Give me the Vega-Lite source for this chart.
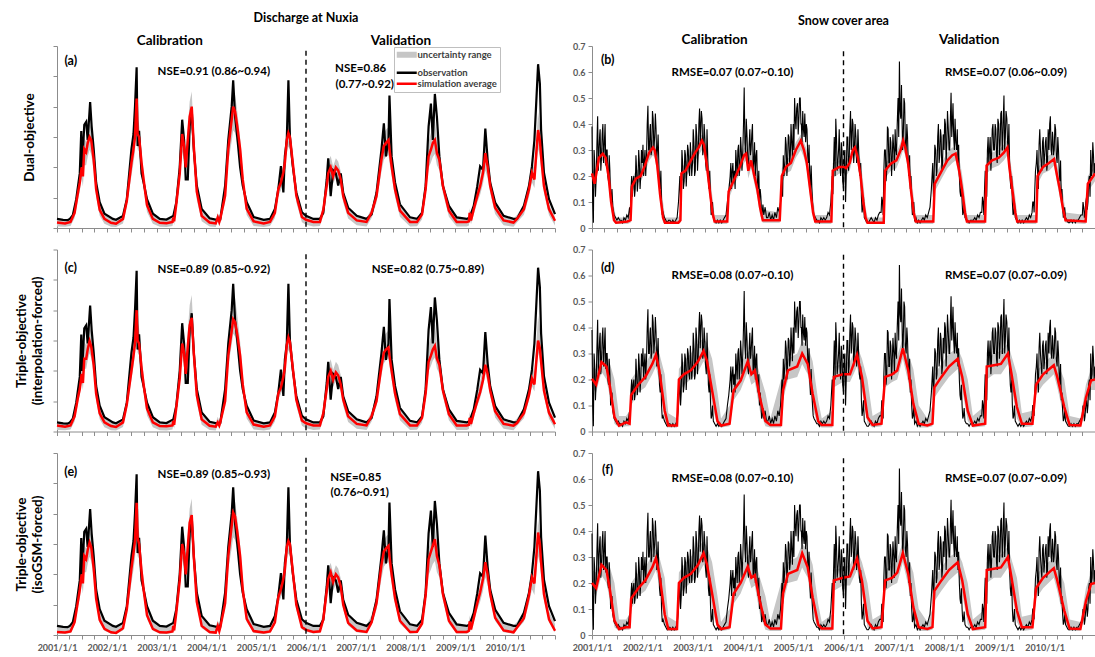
{
"$schema": "https://vega.github.io/schema/vega-lite/v6.json",
"background": "white",
"padding": {"left": 14, "top": 11, "right": 0, "bottom": 4},
"config": {
  "font": "Lato",
  "view": {"stroke": null},
  "axis": {"grid": false, "domainColor": "#8c8c8c", "tickColor": "#8c8c8c", "tickSize": 4, "labelFont": "Lato", "labelFontWeight": "bold", "labelColor": "#595959", "labelFontSize": 9, "titleFont": "Lato", "titleFontWeight": "bold", "titleFontSize": 13.5, "titleColor": "black"},
  "text": {"font": "Lato", "fontWeight": "bold", "color": "black"},
  "title": {"font": "Lato", "fontWeight": "bold", "fontSize": 12.5, "color": "black"}
},
"datasets": {
"qo": [
{"d":"2001-01-01","v":0.3},{"d":"2001-02-15","v":0.27},{"d":"2001-03-20","v":0.26},{"d":"2001-04-05","v":0.3},{"d":"2001-04-27","v":0.42},{"d":"2001-05-22","v":0.95},{"d":"2001-06-17","v":1.8},{"d":"2001-06-28","v":3.2},{"d":"2001-07-04","v":2.0},{"d":"2001-07-20","v":3.4},{"d":"2001-08-03","v":3.5},{"d":"2001-08-14","v":2.9},{"d":"2001-09-01","v":4.15},{"d":"2001-09-12","v":3.35},{"d":"2001-09-27","v":2.6},{"d":"2001-10-15","v":1.5},{"d":"2001-11-10","v":0.85},{"d":"2001-12-15","v":0.47},
{"d":"2002-02-15","v":0.3},{"d":"2002-03-10","v":0.27},{"d":"2002-04-30","v":0.4},{"d":"2002-05-28","v":0.95},{"d":"2002-07-01","v":2.6},{"d":"2002-07-16","v":3.1},{"d":"2002-07-27","v":4.0},{"d":"2002-08-08","v":5.3},{"d":"2002-08-15","v":2.7},{"d":"2002-08-26","v":3.2},{"d":"2002-09-13","v":1.8},{"d":"2002-09-28","v":1.5},{"d":"2002-10-23","v":0.95},{"d":"2002-12-05","v":0.47},
{"d":"2003-01-25","v":0.3},{"d":"2003-03-15","v":0.28},{"d":"2003-05-04","v":0.4},{"d":"2003-05-26","v":0.85},{"d":"2003-06-20","v":2.0},{"d":"2003-07-08","v":3.57},{"d":"2003-07-22","v":2.9},{"d":"2003-08-03","v":1.6},{"d":"2003-08-18","v":1.6},{"d":"2003-09-01","v":3.35},{"d":"2003-09-16","v":3.9},{"d":"2003-10-01","v":2.6},{"d":"2003-10-23","v":1.4},{"d":"2003-11-28","v":0.63},
{"d":"2004-01-25","v":0.32},{"d":"2004-03-18","v":0.27},{"d":"2004-04-12","v":0.28},{"d":"2004-05-18","v":1.4},{"d":"2004-06-10","v":2.9},{"d":"2004-07-05","v":4.0},{"d":"2004-07-16","v":4.87},{"d":"2004-07-30","v":3.67},{"d":"2004-08-15","v":3.0},{"d":"2004-09-05","v":2.0},{"d":"2004-09-24","v":1.4},{"d":"2004-10-23","v":0.85},{"d":"2004-12-13","v":0.36},
{"d":"2005-02-25","v":0.27},{"d":"2005-04-12","v":0.3},{"d":"2005-05-18","v":0.63},{"d":"2005-06-12","v":1.28},{"d":"2005-07-01","v":2.04},{"d":"2005-07-19","v":1.17},{"d":"2005-07-30","v":2.37},{"d":"2005-08-13","v":2.9},{"d":"2005-08-25","v":4.87},{"d":"2005-09-05","v":3.0},{"d":"2005-09-26","v":2.04},{"d":"2005-10-22","v":1.17},{"d":"2005-12-02","v":0.52},
{"d":"2006-01-01","v":0.4},{"d":"2006-02-24","v":0.3},{"d":"2006-04-13","v":0.3},{"d":"2006-05-08","v":0.5},{"d":"2006-06-02","v":1.6},{"d":"2006-06-13","v":2.3},{"d":"2006-07-01","v":1.05},{"d":"2006-07-19","v":1.9},{"d":"2006-08-08","v":1.8},{"d":"2006-08-25","v":1.4},{"d":"2006-09-13","v":1.8},{"d":"2006-10-01","v":1.16},{"d":"2006-11-06","v":0.67},
{"d":"2007-01-08","v":0.4},{"d":"2007-03-21","v":0.3},{"d":"2007-04-27","v":0.45},{"d":"2007-06-02","v":1.16},{"d":"2007-07-08","v":2.57},{"d":"2007-07-26","v":3.45},{"d":"2007-08-10","v":2.36},{"d":"2007-08-29","v":2.9},{"d":"2007-09-05","v":4.37},{"d":"2007-09-21","v":2.36},{"d":"2007-10-16","v":1.5},{"d":"2007-11-21","v":0.78},
{"d":"2008-02-03","v":0.35},{"d":"2008-03-25","v":0.3},{"d":"2008-05-01","v":0.5},{"d":"2008-05-27","v":1.38},{"d":"2008-06-18","v":3.34},{"d":"2008-07-05","v":4.1},{"d":"2008-07-19","v":2.9},{"d":"2008-08-03","v":4.42},{"d":"2008-08-18","v":3.66},{"d":"2008-09-05","v":2.36},{"d":"2008-10-01","v":1.38},{"d":"2008-11-14","v":0.73},
{"d":"2009-01-10","v":0.35},{"d":"2009-03-25","v":0.3},{"d":"2009-04-15","v":0.35},{"d":"2009-05-15","v":0.73},{"d":"2009-06-10","v":1.38},{"d":"2009-07-01","v":2.03},{"d":"2009-07-22","v":1.92},{"d":"2009-08-08","v":3.28},{"d":"2009-08-25","v":2.25},{"d":"2009-09-13","v":1.49},{"d":"2009-10-19","v":0.84},{"d":"2009-12-20","v":0.4},
{"d":"2010-03-03","v":0.3},{"d":"2010-03-28","v":0.3},{"d":"2010-05-18","v":0.73},{"d":"2010-06-24","v":1.38},{"d":"2010-07-16","v":2.03},{"d":"2010-08-03","v":2.9},{"d":"2010-08-15","v":4.0},{"d":"2010-08-30","v":5.4},{"d":"2010-09-12","v":4.76},{"d":"2010-09-21","v":3.23},{"d":"2010-10-12","v":1.82},{"d":"2010-11-18","v":0.95},{"d":"2011-01-01","v":0.46}
],
"qs": [
{"d":"2001-01-01","a":0.18,"c":0.2,"e":0.1,"l":0.05,"h":0.32},
{"d":"2001-03-01","a":0.15,"c":0.16,"e":0.08,"l":0.04,"h":0.28},
{"d":"2001-04-10","a":0.2,"c":0.2,"e":0.12,"l":0.07,"h":0.33},
{"d":"2001-05-10","a":0.5,"c":0.5,"e":0.42,"l":0.33,"h":0.65},
{"d":"2001-06-05","a":1.2,"c":1.15,"e":1.15,"l":0.97,"h":1.42},
{"d":"2001-06-17","a":1.5,"c":1.4,"e":1.5,"l":1.2,"h":1.75},
{"d":"2001-07-01","a":2.0,"c":1.9,"e":2.0,"l":1.63,"h":2.3},
{"d":"2001-07-10","a":1.7,"c":1.6,"e":1.7,"l":1.37,"h":1.97},
{"d":"2001-07-20","a":2.6,"c":2.4,"e":2.6,"l":2.07,"h":2.96},
{"d":"2001-08-03","a":2.5,"c":2.4,"e":2.5,"l":2.07,"h":2.85},
{"d":"2001-08-14","a":2.8,"c":2.7,"e":2.8,"l":2.34,"h":3.18},
{"d":"2001-08-28","a":3.0,"c":2.98,"e":3.05,"l":2.58,"h":3.46},
{"d":"2001-09-09","a":2.9,"c":2.8,"e":2.9,"l":2.42,"h":3.29},
{"d":"2001-09-27","a":2.25,"c":2.2,"e":2.2,"l":1.9,"h":2.58},
{"d":"2001-10-15","a":1.28,"c":1.25,"e":1.2,"l":1.02,"h":1.51},
{"d":"2001-11-10","a":0.6,"c":0.6,"e":0.5,"l":0.4,"h":0.76},
{"d":"2001-12-15","a":0.3,"c":0.3,"e":0.2,"l":0.14,"h":0.43},
{"d":"2002-02-01","a":0.17,"c":0.18,"e":0.09,"l":0.04,"h":0.3},
{"d":"2002-03-10","a":0.14,"c":0.15,"e":0.07,"l":0.03,"h":0.27},
{"d":"2002-04-30","a":0.3,"c":0.3,"e":0.22,"l":0.15,"h":0.43},
{"d":"2002-05-28","a":0.9,"c":0.9,"e":0.85,"l":0.71,"h":1.09},
{"d":"2002-07-01","a":2.15,"c":2.0,"e":2.2,"l":1.72,"h":2.52},
{"d":"2002-07-16","a":2.6,"c":2.5,"e":2.7,"l":2.16,"h":3.07},
{"d":"2002-07-27","a":3.0,"c":2.9,"e":3.1,"l":2.51,"h":3.51},
{"d":"2002-08-08","a":4.27,"c":4.0,"e":4.36,"l":3.48,"h":4.9},
{"d":"2002-08-15","a":3.1,"c":3.0,"e":3.2,"l":2.6,"h":3.62},
{"d":"2002-08-26","a":3.0,"c":2.9,"e":3.0,"l":2.51,"h":3.4},
{"d":"2002-09-13","a":2.15,"c":2.1,"e":2.1,"l":1.81,"h":2.47},
{"d":"2002-09-28","a":1.6,"c":1.55,"e":1.5,"l":1.28,"h":1.86},
{"d":"2002-10-23","a":0.75,"c":0.75,"e":0.65,"l":0.53,"h":0.93},
{"d":"2002-12-05","a":0.3,"c":0.3,"e":0.2,"l":0.14,"h":0.43},
{"d":"2003-01-25","a":0.17,"c":0.18,"e":0.09,"l":0.04,"h":0.3},
{"d":"2003-03-15","a":0.16,"c":0.17,"e":0.08,"l":0.03,"h":0.29},
{"d":"2003-04-28","a":0.2,"c":0.2,"e":0.12,"l":0.07,"h":0.32},
{"d":"2003-05-04","a":0.35,"c":0.35,"e":0.3,"l":0.22,"h":0.49},
{"d":"2003-05-10","a":0.22,"c":0.22,"e":0.15,"l":0.09,"h":0.34},
{"d":"2003-05-26","a":0.8,"c":0.8,"e":0.75,"l":0.62,"h":0.98},
{"d":"2003-06-20","a":1.8,"c":1.75,"e":1.8,"l":1.5,"h":2.08},
{"d":"2003-07-08","a":3.1,"c":2.9,"e":3.0,"l":2.51,"h":3.51},
{"d":"2003-07-22","a":2.7,"c":2.6,"e":2.7,"l":2.25,"h":3.07},
{"d":"2003-08-03","a":2.0,"c":1.9,"e":2.0,"l":1.63,"h":2.3},
{"d":"2003-08-18","a":2.9,"c":2.8,"e":2.9,"l":2.42,"h":3.29},
{"d":"2003-09-01","a":3.67,"c":3.5,"e":3.7,"l":3.04,"h":4.17},
{"d":"2003-09-16","a":4.0,"c":3.75,"e":3.95,"l":3.26,"h":4.5},
{"d":"2003-10-01","a":2.7,"c":2.6,"e":2.6,"l":2.25,"h":3.07},
{"d":"2003-10-23","a":1.2,"c":1.2,"e":1.1,"l":0.93,"h":1.42},
{"d":"2003-11-28","a":0.4,"c":0.4,"e":0.3,"l":0.22,"h":0.54},
{"d":"2004-01-25","a":0.18,"c":0.19,"e":0.1,"l":0.05,"h":0.31},
{"d":"2004-03-10","a":0.15,"c":0.16,"e":0.08,"l":0.03,"h":0.28},
{"d":"2004-03-25","a":0.35,"c":0.3,"e":0.3,"l":0.22,"h":0.49},
{"d":"2004-04-05","a":0.2,"c":0.2,"e":0.13,"l":0.07,"h":0.32},
{"d":"2004-04-12","a":0.3,"c":0.3,"e":0.25,"l":0.18,"h":0.43},
{"d":"2004-05-18","a":1.07,"c":1.0,"e":1.05,"l":0.84,"h":1.28},
{"d":"2004-06-10","a":2.6,"c":2.5,"e":2.6,"l":2.16,"h":2.96},
{"d":"2004-07-05","a":3.57,"c":3.3,"e":3.6,"l":2.86,"h":4.06},
{"d":"2004-07-16","a":4.0,"c":3.7,"e":4.03,"l":3.22,"h":4.53},
{"d":"2004-07-30","a":3.84,"c":3.6,"e":3.9,"l":3.13,"h":4.39},
{"d":"2004-08-15","a":3.35,"c":3.2,"e":3.4,"l":2.78,"h":3.84},
{"d":"2004-09-05","a":2.6,"c":2.5,"e":2.6,"l":2.16,"h":2.96},
{"d":"2004-09-24","a":1.6,"c":1.55,"e":1.5,"l":1.28,"h":1.86},
{"d":"2004-10-23","a":0.63,"c":0.63,"e":0.53,"l":0.43,"h":0.79},
{"d":"2004-12-13","a":0.22,"c":0.23,"e":0.13,"l":0.07,"h":0.35},
{"d":"2005-02-25","a":0.15,"c":0.16,"e":0.08,"l":0.03,"h":0.28},
{"d":"2005-04-12","a":0.2,"c":0.2,"e":0.12,"l":0.07,"h":0.32},
{"d":"2005-05-18","a":0.5,"c":0.5,"e":0.42,"l":0.33,"h":0.65},
{"d":"2005-06-12","a":1.28,"c":1.25,"e":1.25,"l":1.06,"h":1.51},
{"d":"2005-07-01","a":1.5,"c":1.45,"e":1.5,"l":1.24,"h":1.75},
{"d":"2005-07-19","a":1.83,"c":1.8,"e":1.85,"l":1.54,"h":2.14},
{"d":"2005-07-30","a":2.15,"c":2.1,"e":2.15,"l":1.81,"h":2.47},
{"d":"2005-08-13","a":2.9,"c":2.85,"e":2.9,"l":2.47,"h":3.29},
{"d":"2005-08-25","a":3.13,"c":3.1,"e":3.1,"l":2.69,"h":3.54},
{"d":"2005-09-05","a":3.0,"c":2.95,"e":3.0,"l":2.56,"h":3.4},
{"d":"2005-09-26","a":2.15,"c":2.1,"e":2.1,"l":1.81,"h":2.47},
{"d":"2005-10-22","a":1.07,"c":1.05,"e":1.0,"l":0.84,"h":1.28},
{"d":"2005-12-02","a":0.36,"c":0.36,"e":0.26,"l":0.19,"h":0.5},
{"d":"2006-01-01","a":0.27,"c":0.27,"e":0.17,"l":0.11,"h":0.4},
{"d":"2006-02-24","a":0.2,"c":0.2,"e":0.1,"l":0.05,"h":0.32},
{"d":"2006-04-13","a":0.2,"c":0.2,"e":0.12,"l":0.07,"h":0.32},
{"d":"2006-05-08","a":0.6,"c":0.6,"e":0.52,"l":0.42,"h":0.76},
{"d":"2006-06-02","a":1.4,"c":1.4,"e":1.45,"l":1.19,"h":1.7},
{"d":"2006-06-13","a":1.8,"c":1.8,"e":1.85,"l":1.54,"h":2.14},
{"d":"2006-07-01","a":2.0,"c":2.0,"e":2.07,"l":1.72,"h":2.38},
{"d":"2006-07-19","a":1.7,"c":1.7,"e":1.75,"l":1.46,"h":2.03},
{"d":"2006-08-08","a":2.0,"c":1.95,"e":2.0,"l":1.68,"h":2.3},
{"d":"2006-08-25","a":1.9,"c":1.85,"e":1.9,"l":1.59,"h":2.19},
{"d":"2006-09-13","a":1.6,"c":1.55,"e":1.6,"l":1.32,"h":1.86},
{"d":"2006-10-01","a":1.05,"c":1.05,"e":1.0,"l":0.84,"h":1.26},
{"d":"2006-11-06","a":0.5,"c":0.5,"e":0.4,"l":0.31,"h":0.65},
{"d":"2007-01-08","a":0.25,"c":0.25,"e":0.15,"l":0.09,"h":0.38},
{"d":"2007-03-21","a":0.2,"c":0.2,"e":0.1,"l":0.05,"h":0.32},
{"d":"2007-04-27","a":0.5,"c":0.5,"e":0.42,"l":0.33,"h":0.65},
{"d":"2007-06-02","a":1.05,"c":1.0,"e":1.05,"l":0.84,"h":1.26},
{"d":"2007-07-08","a":2.25,"c":2.15,"e":2.3,"l":1.85,"h":2.63},
{"d":"2007-07-26","a":2.7,"c":2.6,"e":2.75,"l":2.25,"h":3.13},
{"d":"2007-08-10","a":2.8,"c":2.7,"e":2.85,"l":2.34,"h":3.24},
{"d":"2007-08-29","a":2.9,"c":2.77,"e":2.94,"l":2.4,"h":3.33},
{"d":"2007-09-05","a":2.6,"c":2.5,"e":2.6,"l":2.16,"h":2.96},
{"d":"2007-09-21","a":2.03,"c":2.0,"e":2.0,"l":1.72,"h":2.33},
{"d":"2007-10-16","a":1.27,"c":1.25,"e":1.2,"l":1.02,"h":1.5},
{"d":"2007-11-21","a":0.57,"c":0.57,"e":0.47,"l":0.37,"h":0.73},
{"d":"2008-02-03","a":0.2,"c":0.2,"e":0.1,"l":0.05,"h":0.32},
{"d":"2008-03-25","a":0.2,"c":0.2,"e":0.11,"l":0.06,"h":0.32},
{"d":"2008-05-01","a":0.45,"c":0.45,"e":0.38,"l":0.29,"h":0.6},
{"d":"2008-05-27","a":1.27,"c":1.25,"e":1.3,"l":1.06,"h":1.53},
{"d":"2008-06-18","a":2.36,"c":2.3,"e":2.5,"l":1.98,"h":2.85},
{"d":"2008-07-05","a":2.58,"c":2.5,"e":2.75,"l":2.16,"h":3.13},
{"d":"2008-07-19","a":2.8,"c":2.7,"e":2.95,"l":2.34,"h":3.35},
{"d":"2008-08-03","a":2.9,"c":2.82,"e":3.16,"l":2.44,"h":3.58},
{"d":"2008-08-18","a":2.47,"c":2.4,"e":2.6,"l":2.07,"h":2.96},
{"d":"2008-09-05","a":2.25,"c":2.2,"e":2.3,"l":1.9,"h":2.63},
{"d":"2008-10-01","a":1.38,"c":1.35,"e":1.35,"l":1.15,"h":1.62},
{"d":"2008-11-14","a":0.57,"c":0.57,"e":0.47,"l":0.37,"h":0.73},
{"d":"2009-01-10","a":0.2,"c":0.2,"e":0.1,"l":0.05,"h":0.32},
{"d":"2009-03-25","a":0.2,"c":0.2,"e":0.1,"l":0.05,"h":0.32},
{"d":"2009-04-10","a":0.22,"c":0.22,"e":0.14,"l":0.08,"h":0.34},
{"d":"2009-04-15","a":0.5,"c":0.45,"e":0.45,"l":0.36,"h":0.65},
{"d":"2009-04-25","a":0.25,"c":0.25,"e":0.18,"l":0.12,"h":0.38},
{"d":"2009-05-15","a":0.62,"c":0.6,"e":0.55,"l":0.44,"h":0.78},
{"d":"2009-06-10","a":1.05,"c":1.0,"e":1.05,"l":0.84,"h":1.26},
{"d":"2009-07-01","a":1.38,"c":1.3,"e":1.4,"l":1.1,"h":1.64},
{"d":"2009-07-22","a":1.82,"c":1.7,"e":1.85,"l":1.46,"h":2.14},
{"d":"2009-08-08","a":2.47,"c":2.2,"e":2.4,"l":1.9,"h":2.82},
{"d":"2009-08-25","a":2.03,"c":1.9,"e":2.0,"l":1.63,"h":2.33},
{"d":"2009-09-13","a":1.38,"c":1.35,"e":1.35,"l":1.15,"h":1.62},
{"d":"2009-10-19","a":0.67,"c":0.67,"e":0.57,"l":0.46,"h":0.84},
{"d":"2009-12-20","a":0.25,"c":0.25,"e":0.15,"l":0.09,"h":0.38},
{"d":"2010-03-03","a":0.18,"c":0.19,"e":0.09,"l":0.04,"h":0.31},
{"d":"2010-03-28","a":0.3,"c":0.28,"e":0.25,"l":0.18,"h":0.43},
{"d":"2010-05-18","a":0.62,"c":0.6,"e":0.55,"l":0.44,"h":0.78},
{"d":"2010-06-24","a":1.27,"c":1.2,"e":1.3,"l":1.02,"h":1.53},
{"d":"2010-07-16","a":1.82,"c":1.75,"e":1.9,"l":1.5,"h":2.19},
{"d":"2010-08-03","a":1.6,"c":1.55,"e":1.7,"l":1.32,"h":1.97},
{"d":"2010-08-15","a":2.36,"c":2.2,"e":2.45,"l":1.9,"h":2.8},
{"d":"2010-08-30","a":3.23,"c":3.0,"e":3.38,"l":2.6,"h":3.82},
{"d":"2010-09-12","a":2.9,"c":2.75,"e":3.0,"l":2.38,"h":3.4},
{"d":"2010-09-21","a":2.36,"c":2.3,"e":2.4,"l":1.98,"h":2.74},
{"d":"2010-10-12","a":1.38,"c":1.35,"e":1.35,"l":1.15,"h":1.62},
{"d":"2010-11-18","a":0.62,"c":0.62,"e":0.52,"l":0.42,"h":0.78},
{"d":"2011-01-01","a":0.24,"c":0.24,"e":0.14,"l":0.08,"h":0.36}
],
"so": [
{"d":"2001-01-01","v":0.39},{"d":"2001-01-11","v":0.02},{"d":"2001-01-21","v":0.25},{"d":"2001-02-01","v":0.2},{"d":"2001-02-11","v":0.43},{"d":"2001-02-21","v":0.3},{"d":"2001-03-01","v":0.38},{"d":"2001-03-11","v":0.27},{"d":"2001-03-21","v":0.4},{"d":"2001-04-01","v":0.33},{"d":"2001-04-11","v":0.24},{"d":"2001-04-21","v":0.3},{"d":"2001-05-01","v":0.18},{"d":"2001-05-11","v":0.22},{"d":"2001-05-21","v":0.12},{"d":"2001-06-01","v":0.08},{"d":"2001-06-11","v":0.05},{"d":"2001-06-21","v":0.04},{"d":"2001-07-01","v":0.03},{"d":"2001-07-11","v":0.04},{"d":"2001-07-21","v":0.03},{"d":"2001-08-01","v":0.03},{"d":"2001-08-11","v":0.02},{"d":"2001-08-21","v":0.04},{"d":"2001-09-01","v":0.03},{"d":"2001-09-11","v":0.05},{"d":"2001-09-21","v":0.04},{"d":"2001-10-01","v":0.08},{"d":"2001-10-11","v":0.15},{"d":"2001-10-21","v":0.12},{"d":"2001-11-01","v":0.2},{"d":"2001-11-11","v":0.15},{"d":"2001-11-21","v":0.22},{"d":"2001-12-01","v":0.18},{"d":"2001-12-11","v":0.25},{"d":"2001-12-21","v":0.2},
{"d":"2002-01-01","v":0.25},{"d":"2002-01-11","v":0.2},{"d":"2002-01-21","v":0.3},{"d":"2002-02-01","v":0.28},{"d":"2002-02-11","v":0.47},{"d":"2002-02-21","v":0.3},{"d":"2002-03-01","v":0.4},{"d":"2002-03-11","v":0.3},{"d":"2002-03-21","v":0.42},{"d":"2002-04-01","v":0.35},{"d":"2002-04-11","v":0.38},{"d":"2002-04-21","v":0.3},{"d":"2002-05-01","v":0.25},{"d":"2002-05-11","v":0.15},{"d":"2002-05-21","v":0.1},{"d":"2002-06-01","v":0.06},{"d":"2002-06-11","v":0.04},{"d":"2002-06-21","v":0.03},{"d":"2002-07-01","v":0.02},{"d":"2002-07-11","v":0.03},{"d":"2002-07-21","v":0.03},{"d":"2002-08-01","v":0.02},{"d":"2002-08-11","v":0.03},{"d":"2002-08-21","v":0.02},{"d":"2002-09-01","v":0.03},{"d":"2002-09-11","v":0.04},{"d":"2002-09-21","v":0.1},{"d":"2002-10-01","v":0.2},{"d":"2002-10-11","v":0.15},{"d":"2002-10-21","v":0.25},{"d":"2002-11-01","v":0.18},{"d":"2002-11-11","v":0.28},{"d":"2002-11-21","v":0.22},{"d":"2002-12-01","v":0.3},{"d":"2002-12-11","v":0.2},{"d":"2002-12-21","v":0.27},
{"d":"2003-01-01","v":0.25},{"d":"2003-01-11","v":0.33},{"d":"2003-01-21","v":0.22},{"d":"2003-02-01","v":0.35},{"d":"2003-02-11","v":0.28},{"d":"2003-02-21","v":0.46},{"d":"2003-03-01","v":0.38},{"d":"2003-03-11","v":0.42},{"d":"2003-03-21","v":0.3},{"d":"2003-04-01","v":0.34},{"d":"2003-04-11","v":0.22},{"d":"2003-04-21","v":0.28},{"d":"2003-05-01","v":0.15},{"d":"2003-05-11","v":0.12},{"d":"2003-05-21","v":0.06},{"d":"2003-06-01","v":0.04},{"d":"2003-06-11","v":0.03},{"d":"2003-06-21","v":0.02},{"d":"2003-07-01","v":0.03},{"d":"2003-07-11","v":0.02},{"d":"2003-07-21","v":0.03},{"d":"2003-08-01","v":0.02},{"d":"2003-08-11","v":0.03},{"d":"2003-08-21","v":0.04},{"d":"2003-09-01","v":0.05},{"d":"2003-09-11","v":0.1},{"d":"2003-09-21","v":0.14},{"d":"2003-10-01","v":0.2},{"d":"2003-10-11","v":0.15},{"d":"2003-10-21","v":0.25},{"d":"2003-11-01","v":0.22},{"d":"2003-11-11","v":0.3},{"d":"2003-11-21","v":0.2},{"d":"2003-12-01","v":0.32},{"d":"2003-12-11","v":0.25},{"d":"2003-12-21","v":0.3},
{"d":"2004-01-01","v":0.3},{"d":"2004-01-11","v":0.54},{"d":"2004-01-21","v":0.28},{"d":"2004-02-01","v":0.35},{"d":"2004-02-11","v":0.22},{"d":"2004-02-21","v":0.38},{"d":"2004-03-01","v":0.3},{"d":"2004-03-11","v":0.4},{"d":"2004-03-21","v":0.25},{"d":"2004-04-01","v":0.2},{"d":"2004-04-11","v":0.3},{"d":"2004-04-21","v":0.15},{"d":"2004-05-01","v":0.1},{"d":"2004-05-11","v":0.12},{"d":"2004-05-21","v":0.06},{"d":"2004-06-01","v":0.05},{"d":"2004-06-11","v":0.08},{"d":"2004-06-21","v":0.04},{"d":"2004-07-01","v":0.04},{"d":"2004-07-11","v":0.06},{"d":"2004-07-21","v":0.03},{"d":"2004-08-01","v":0.05},{"d":"2004-08-11","v":0.03},{"d":"2004-08-21","v":0.06},{"d":"2004-09-01","v":0.04},{"d":"2004-09-11","v":0.08},{"d":"2004-09-21","v":0.06},{"d":"2004-10-01","v":0.1},{"d":"2004-10-11","v":0.2},{"d":"2004-10-21","v":0.28},{"d":"2004-11-01","v":0.25},{"d":"2004-11-11","v":0.32},{"d":"2004-11-21","v":0.26},{"d":"2004-12-01","v":0.35},{"d":"2004-12-11","v":0.28},{"d":"2004-12-21","v":0.33},
{"d":"2005-01-01","v":0.4},{"d":"2005-01-11","v":0.5},{"d":"2005-01-21","v":0.38},{"d":"2005-02-01","v":0.48},{"d":"2005-02-11","v":0.42},{"d":"2005-02-21","v":0.5},{"d":"2005-03-01","v":0.4},{"d":"2005-03-11","v":0.45},{"d":"2005-03-21","v":0.35},{"d":"2005-04-01","v":0.33},{"d":"2005-04-11","v":0.38},{"d":"2005-04-21","v":0.25},{"d":"2005-05-01","v":0.2},{"d":"2005-05-11","v":0.24},{"d":"2005-05-21","v":0.1},{"d":"2005-06-01","v":0.05},{"d":"2005-06-11","v":0.04},{"d":"2005-06-21","v":0.03},{"d":"2005-07-01","v":0.03},{"d":"2005-07-11","v":0.02},{"d":"2005-07-21","v":0.04},{"d":"2005-08-01","v":0.03},{"d":"2005-08-11","v":0.04},{"d":"2005-08-21","v":0.03},{"d":"2005-09-01","v":0.04},{"d":"2005-09-11","v":0.06},{"d":"2005-09-21","v":0.05},{"d":"2005-10-01","v":0.1},{"d":"2005-10-11","v":0.2},{"d":"2005-10-21","v":0.25},{"d":"2005-11-01","v":0.2},{"d":"2005-11-11","v":0.35},{"d":"2005-11-21","v":0.25},{"d":"2005-12-01","v":0.38},{"d":"2005-12-11","v":0.2},{"d":"2005-12-21","v":0.3},
{"d":"2006-01-01","v":0.15},{"d":"2006-01-11","v":0.3},{"d":"2006-01-21","v":0.2},{"d":"2006-02-01","v":0.35},{"d":"2006-02-11","v":0.25},{"d":"2006-02-21","v":0.45},{"d":"2006-03-01","v":0.32},{"d":"2006-03-11","v":0.4},{"d":"2006-03-21","v":0.3},{"d":"2006-04-01","v":0.35},{"d":"2006-04-11","v":0.28},{"d":"2006-04-21","v":0.3},{"d":"2006-05-01","v":0.2},{"d":"2006-05-11","v":0.12},{"d":"2006-05-21","v":0.08},{"d":"2006-06-01","v":0.04},{"d":"2006-06-11","v":0.03},{"d":"2006-06-21","v":0.02},{"d":"2006-07-01","v":0.02},{"d":"2006-07-11","v":0.03},{"d":"2006-07-21","v":0.04},{"d":"2006-08-01","v":0.03},{"d":"2006-08-11","v":0.02},{"d":"2006-08-21","v":0.04},{"d":"2006-09-01","v":0.03},{"d":"2006-09-11","v":0.05},{"d":"2006-09-21","v":0.06},{"d":"2006-10-01","v":0.06},{"d":"2006-10-11","v":0.1},{"d":"2006-10-21","v":0.22},{"d":"2006-11-01","v":0.3},{"d":"2006-11-11","v":0.22},{"d":"2006-11-21","v":0.38},{"d":"2006-12-01","v":0.25},{"d":"2006-12-11","v":0.33},{"d":"2006-12-21","v":0.27},
{"d":"2007-01-01","v":0.3},{"d":"2007-01-11","v":0.38},{"d":"2007-01-21","v":0.28},{"d":"2007-02-01","v":0.5},{"d":"2007-02-11","v":0.64},{"d":"2007-02-21","v":0.42},{"d":"2007-03-01","v":0.45},{"d":"2007-03-11","v":0.35},{"d":"2007-03-21","v":0.48},{"d":"2007-04-01","v":0.3},{"d":"2007-04-11","v":0.35},{"d":"2007-04-21","v":0.2},{"d":"2007-05-01","v":0.15},{"d":"2007-05-11","v":0.1},{"d":"2007-05-21","v":0.06},{"d":"2007-06-01","v":0.03},{"d":"2007-06-11","v":0.04},{"d":"2007-06-21","v":0.02},{"d":"2007-07-01","v":0.03},{"d":"2007-07-11","v":0.02},{"d":"2007-07-21","v":0.03},{"d":"2007-08-01","v":0.04},{"d":"2007-08-11","v":0.03},{"d":"2007-08-21","v":0.05},{"d":"2007-09-01","v":0.04},{"d":"2007-09-11","v":0.06},{"d":"2007-09-21","v":0.08},{"d":"2007-10-01","v":0.15},{"d":"2007-10-11","v":0.25},{"d":"2007-10-21","v":0.2},{"d":"2007-11-01","v":0.3},{"d":"2007-11-11","v":0.22},{"d":"2007-11-21","v":0.4},{"d":"2007-12-01","v":0.28},{"d":"2007-12-11","v":0.35},{"d":"2007-12-21","v":0.25},
{"d":"2008-01-01","v":0.3},{"d":"2008-01-11","v":0.4},{"d":"2008-01-21","v":0.32},{"d":"2008-02-01","v":0.38},{"d":"2008-02-11","v":0.3},{"d":"2008-02-21","v":0.52},{"d":"2008-03-01","v":0.4},{"d":"2008-03-11","v":0.35},{"d":"2008-03-21","v":0.42},{"d":"2008-04-01","v":0.3},{"d":"2008-04-11","v":0.25},{"d":"2008-04-21","v":0.2},{"d":"2008-05-01","v":0.12},{"d":"2008-05-11","v":0.1},{"d":"2008-05-21","v":0.06},{"d":"2008-06-01","v":0.04},{"d":"2008-06-11","v":0.03},{"d":"2008-06-21","v":0.03},{"d":"2008-07-01","v":0.02},{"d":"2008-07-11","v":0.03},{"d":"2008-07-21","v":0.03},{"d":"2008-08-01","v":0.03},{"d":"2008-08-11","v":0.04},{"d":"2008-08-21","v":0.03},{"d":"2008-09-01","v":0.05},{"d":"2008-09-11","v":0.04},{"d":"2008-09-21","v":0.06},{"d":"2008-10-01","v":0.06},{"d":"2008-10-11","v":0.1},{"d":"2008-10-21","v":0.15},{"d":"2008-11-01","v":0.2},{"d":"2008-11-11","v":0.3},{"d":"2008-11-21","v":0.25},{"d":"2008-12-01","v":0.35},{"d":"2008-12-11","v":0.28},{"d":"2008-12-21","v":0.4},
{"d":"2009-01-01","v":0.3},{"d":"2009-01-11","v":0.38},{"d":"2009-01-21","v":0.25},{"d":"2009-02-01","v":0.4},{"d":"2009-02-11","v":0.32},{"d":"2009-02-21","v":0.45},{"d":"2009-03-01","v":0.3},{"d":"2009-03-11","v":0.51},{"d":"2009-03-21","v":0.35},{"d":"2009-04-01","v":0.42},{"d":"2009-04-11","v":0.3},{"d":"2009-04-21","v":0.25},{"d":"2009-05-01","v":0.15},{"d":"2009-05-11","v":0.1},{"d":"2009-05-21","v":0.06},{"d":"2009-06-01","v":0.04},{"d":"2009-06-11","v":0.03},{"d":"2009-06-21","v":0.02},{"d":"2009-07-01","v":0.03},{"d":"2009-07-11","v":0.02},{"d":"2009-07-21","v":0.03},{"d":"2009-08-01","v":0.02},{"d":"2009-08-11","v":0.03},{"d":"2009-08-21","v":0.04},{"d":"2009-09-01","v":0.03},{"d":"2009-09-11","v":0.05},{"d":"2009-09-21","v":0.04},{"d":"2009-10-01","v":0.06},{"d":"2009-10-11","v":0.1},{"d":"2009-10-21","v":0.15},{"d":"2009-11-01","v":0.25},{"d":"2009-11-11","v":0.2},{"d":"2009-11-21","v":0.32},{"d":"2009-12-01","v":0.3},{"d":"2009-12-11","v":0.22},{"d":"2009-12-21","v":0.35},
{"d":"2010-01-01","v":0.28},{"d":"2010-01-11","v":0.35},{"d":"2010-01-21","v":0.25},{"d":"2010-02-01","v":0.3},{"d":"2010-02-11","v":0.43},{"d":"2010-02-21","v":0.28},{"d":"2010-03-01","v":0.35},{"d":"2010-03-11","v":0.3},{"d":"2010-03-21","v":0.38},{"d":"2010-04-01","v":0.25},{"d":"2010-04-11","v":0.3},{"d":"2010-04-21","v":0.18},{"d":"2010-05-01","v":0.12},{"d":"2010-05-11","v":0.08},{"d":"2010-05-21","v":0.05},{"d":"2010-06-01","v":0.04},{"d":"2010-06-11","v":0.03},{"d":"2010-06-21","v":0.02},{"d":"2010-07-01","v":0.02},{"d":"2010-07-11","v":0.03},{"d":"2010-07-21","v":0.02},{"d":"2010-08-01","v":0.03},{"d":"2010-08-11","v":0.02},{"d":"2010-08-21","v":0.03},{"d":"2010-09-01","v":0.03},{"d":"2010-09-11","v":0.04},{"d":"2010-09-21","v":0.05},{"d":"2010-10-01","v":0.05},{"d":"2010-10-11","v":0.08},{"d":"2010-10-21","v":0.06},{"d":"2010-11-01","v":0.12},{"d":"2010-11-11","v":0.1},{"d":"2010-11-21","v":0.2},{"d":"2010-12-01","v":0.3},{"d":"2010-12-11","v":0.22},{"d":"2010-12-21","v":0.28},{"d":"2011-01-01","v":0.25},
{"d":"2001-01-06","v":0.1},{"d":"2001-01-16","v":0.3},{"d":"2001-01-26","v":0.12},{"d":"2001-02-06","v":0.33},{"d":"2001-02-16","v":0.22},{"d":"2001-02-26","v":0.36},{"d":"2001-03-06","v":0.22},{"d":"2001-03-16","v":0.36},{"d":"2001-03-26","v":0.25},{"d":"2001-04-06","v":0.4},{"d":"2001-04-16","v":0.3},{"d":"2001-04-26","v":0.2},{"d":"2001-05-06","v":0.28},{"d":"2001-05-16","v":0.1},{"d":"2001-05-26","v":0.15},{"d":"2001-10-06","v":0.05},{"d":"2001-10-16","v":0.2},{"d":"2001-10-26","v":0.18},{"d":"2001-11-06","v":0.12},{"d":"2001-11-16","v":0.28},{"d":"2001-11-26","v":0.14},{"d":"2001-12-06","v":0.3},{"d":"2001-12-16","v":0.15},{"d":"2001-12-26","v":0.3},
{"d":"2002-01-06","v":0.32},{"d":"2002-01-16","v":0.26},{"d":"2002-01-26","v":0.2},{"d":"2002-02-06","v":0.4},{"d":"2002-02-16","v":0.3},{"d":"2002-02-26","v":0.38},{"d":"2002-03-06","v":0.28},{"d":"2002-03-16","v":0.45},{"d":"2002-03-26","v":0.3},{"d":"2002-04-06","v":0.44},{"d":"2002-04-16","v":0.25},{"d":"2002-04-26","v":0.36},{"d":"2002-05-06","v":0.18},{"d":"2002-05-16","v":0.22},{"d":"2002-05-26","v":0.05},{"d":"2002-10-06","v":0.1},{"d":"2002-10-16","v":0.3},{"d":"2002-10-26","v":0.15},{"d":"2002-11-06","v":0.3},{"d":"2002-11-16","v":0.16},{"d":"2002-11-26","v":0.32},{"d":"2002-12-06","v":0.22},{"d":"2002-12-16","v":0.33},{"d":"2002-12-26","v":0.2},
{"d":"2003-01-06","v":0.38},{"d":"2003-01-16","v":0.2},{"d":"2003-01-26","v":0.4},{"d":"2003-02-06","v":0.22},{"d":"2003-02-16","v":0.4},{"d":"2003-02-26","v":0.32},{"d":"2003-03-06","v":0.45},{"d":"2003-03-16","v":0.28},{"d":"2003-03-26","v":0.4},{"d":"2003-04-06","v":0.25},{"d":"2003-04-16","v":0.38},{"d":"2003-04-26","v":0.18},{"d":"2003-05-06","v":0.22},{"d":"2003-05-16","v":0.05},{"d":"2003-05-26","v":0.1},{"d":"2003-10-06","v":0.25},{"d":"2003-10-16","v":0.22},{"d":"2003-10-26","v":0.18},{"d":"2003-11-06","v":0.15},{"d":"2003-11-16","v":0.25},{"d":"2003-11-26","v":0.3},{"d":"2003-12-06","v":0.2},{"d":"2003-12-16","v":0.35},{"d":"2003-12-26","v":0.22},
{"d":"2004-01-06","v":0.4},{"d":"2004-01-16","v":0.33},{"d":"2004-01-26","v":0.42},{"d":"2004-02-06","v":0.25},{"d":"2004-02-16","v":0.32},{"d":"2004-02-26","v":0.28},{"d":"2004-03-06","v":0.36},{"d":"2004-03-16","v":0.22},{"d":"2004-03-26","v":0.33},{"d":"2004-04-06","v":0.28},{"d":"2004-04-16","v":0.18},{"d":"2004-04-26","v":0.22},{"d":"2004-05-06","v":0.15},{"d":"2004-05-16","v":0.05},{"d":"2004-05-26","v":0.09},{"d":"2004-10-06","v":0.15},{"d":"2004-10-16","v":0.12},{"d":"2004-10-26","v":0.2},{"d":"2004-11-06","v":0.35},{"d":"2004-11-16","v":0.2},{"d":"2004-11-26","v":0.36},{"d":"2004-12-06","v":0.25},{"d":"2004-12-16","v":0.4},{"d":"2004-12-26","v":0.27},
{"d":"2005-01-06","v":0.3},{"d":"2005-01-16","v":0.42},{"d":"2005-01-26","v":0.46},{"d":"2005-02-06","v":0.36},{"d":"2005-02-16","v":0.5},{"d":"2005-02-26","v":0.4},{"d":"2005-03-06","v":0.33},{"d":"2005-03-16","v":0.38},{"d":"2005-03-26","v":0.44},{"d":"2005-04-06","v":0.4},{"d":"2005-04-16","v":0.28},{"d":"2005-04-26","v":0.32},{"d":"2005-05-06","v":0.14},{"d":"2005-05-16","v":0.16},{"d":"2005-05-26","v":0.06},{"d":"2005-10-06","v":0.15},{"d":"2005-10-16","v":0.13},{"d":"2005-10-26","v":0.35},{"d":"2005-11-06","v":0.42},{"d":"2005-11-16","v":0.22},{"d":"2005-11-26","v":0.3},{"d":"2005-12-06","v":0.25},{"d":"2005-12-16","v":0.33},{"d":"2005-12-26","v":0.18},
{"d":"2006-01-06","v":0.28},{"d":"2006-01-16","v":0.1},{"d":"2006-01-26","v":0.35},{"d":"2006-02-06","v":0.22},{"d":"2006-02-16","v":0.38},{"d":"2006-02-26","v":0.3},{"d":"2006-03-06","v":0.42},{"d":"2006-03-16","v":0.25},{"d":"2006-03-26","v":0.4},{"d":"2006-04-06","v":0.25},{"d":"2006-04-16","v":0.38},{"d":"2006-04-26","v":0.22},{"d":"2006-05-06","v":0.25},{"d":"2006-05-16","v":0.06},{"d":"2006-05-26","v":0.12},{"d":"2006-10-06","v":0.12},{"d":"2006-10-16","v":0.05},{"d":"2006-10-26","v":0.3},{"d":"2006-11-06","v":0.18},{"d":"2006-11-16","v":0.39},{"d":"2006-11-26","v":0.25},{"d":"2006-12-06","v":0.35},{"d":"2006-12-16","v":0.2},{"d":"2006-12-26","v":0.36},
{"d":"2007-01-06","v":0.22},{"d":"2007-01-16","v":0.3},{"d":"2007-01-26","v":0.4},{"d":"2007-02-06","v":0.35},{"d":"2007-02-16","v":0.45},{"d":"2007-02-26","v":0.55},{"d":"2007-03-06","v":0.3},{"d":"2007-03-16","v":0.5},{"d":"2007-03-26","v":0.33},{"d":"2007-04-06","v":0.4},{"d":"2007-04-16","v":0.25},{"d":"2007-04-26","v":0.28},{"d":"2007-05-06","v":0.2},{"d":"2007-05-16","v":0.05},{"d":"2007-05-26","v":0.1},{"d":"2007-10-06","v":0.2},{"d":"2007-10-16","v":0.12},{"d":"2007-10-26","v":0.32},{"d":"2007-11-06","v":0.2},{"d":"2007-11-16","v":0.35},{"d":"2007-11-26","v":0.25},{"d":"2007-12-06","v":0.38},{"d":"2007-12-16","v":0.22},{"d":"2007-12-26","v":0.36},
{"d":"2008-01-06","v":0.42},{"d":"2008-01-16","v":0.25},{"d":"2008-01-26","v":0.45},{"d":"2008-02-06","v":0.3},{"d":"2008-02-16","v":0.42},{"d":"2008-02-26","v":0.35},{"d":"2008-03-06","v":0.48},{"d":"2008-03-16","v":0.3},{"d":"2008-03-26","v":0.33},{"d":"2008-04-06","v":0.38},{"d":"2008-04-16","v":0.32},{"d":"2008-04-26","v":0.14},{"d":"2008-05-06","v":0.18},{"d":"2008-05-16","v":0.05},{"d":"2008-05-26","v":0.09},{"d":"2008-10-06","v":0.12},{"d":"2008-10-16","v":0.05},{"d":"2008-10-26","v":0.22},{"d":"2008-11-06","v":0.12},{"d":"2008-11-16","v":0.35},{"d":"2008-11-26","v":0.3},{"d":"2008-12-06","v":0.22},{"d":"2008-12-16","v":0.38},{"d":"2008-12-26","v":0.3},
{"d":"2009-01-06","v":0.4},{"d":"2009-01-16","v":0.28},{"d":"2009-01-26","v":0.42},{"d":"2009-02-06","v":0.28},{"d":"2009-02-16","v":0.44},{"d":"2009-02-26","v":0.3},{"d":"2009-03-06","v":0.42},{"d":"2009-03-16","v":0.3},{"d":"2009-03-26","v":0.45},{"d":"2009-04-06","v":0.33},{"d":"2009-04-16","v":0.4},{"d":"2009-04-26","v":0.18},{"d":"2009-05-06","v":0.2},{"d":"2009-05-16","v":0.05},{"d":"2009-05-26","v":0.1},{"d":"2009-10-06","v":0.1},{"d":"2009-10-16","v":0.06},{"d":"2009-10-26","v":0.22},{"d":"2009-11-06","v":0.3},{"d":"2009-11-16","v":0.15},{"d":"2009-11-26","v":0.38},{"d":"2009-12-06","v":0.25},{"d":"2009-12-16","v":0.33},{"d":"2009-12-26","v":0.24},
{"d":"2010-01-06","v":0.33},{"d":"2010-01-16","v":0.22},{"d":"2010-01-26","v":0.38},{"d":"2010-02-06","v":0.4},{"d":"2010-02-16","v":0.3},{"d":"2010-02-26","v":0.37},{"d":"2010-03-06","v":0.28},{"d":"2010-03-16","v":0.4},{"d":"2010-03-26","v":0.28},{"d":"2010-04-06","v":0.35},{"d":"2010-04-16","v":0.22},{"d":"2010-04-26","v":0.26},{"d":"2010-05-06","v":0.15},{"d":"2010-05-16","v":0.04},{"d":"2010-05-26","v":0.08},{"d":"2010-10-06","v":0.1},{"d":"2010-10-16","v":0.04},{"d":"2010-10-26","v":0.1},{"d":"2010-11-06","v":0.07},{"d":"2010-11-16","v":0.18},{"d":"2010-11-26","v":0.12},{"d":"2010-12-06","v":0.2},{"d":"2010-12-16","v":0.33},{"d":"2010-12-26","v":0.2}
],
"sb": [
{"d":"2001-01-01","m":0.21,"l":0.19,"h":0.24},{"d":"2001-01-20","m":0.17,"l":0.15,"h":0.21},{"d":"2001-02-20","m":0.27,"l":0.25,"h":0.3},{"d":"2001-03-20","m":0.286,"l":0.26,"h":0.31},{"d":"2001-04-10","m":0.27,"l":0.24,"h":0.3},{"d":"2001-05-01","m":0.2,"l":0.17,"h":0.25},{"d":"2001-05-20","m":0.1,"l":0.07,"h":0.17},{"d":"2001-06-10","m":0.03,"l":0.02,"h":0.08},{"d":"2001-06-25","m":0.02,"l":0.015,"h":0.04},{"d":"2001-09-15","m":0.025,"l":0.015,"h":0.04},{"d":"2001-10-08","m":0.03,"l":0.02,"h":0.06},{"d":"2001-10-18","m":0.16,"l":0.13,"h":0.19},{"d":"2001-11-15","m":0.19,"l":0.17,"h":0.22},{"d":"2001-12-20","m":0.2,"l":0.18,"h":0.23},
{"d":"2002-01-20","m":0.24,"l":0.21,"h":0.27},{"d":"2002-02-20","m":0.29,"l":0.26,"h":0.32},{"d":"2002-03-20","m":0.31,"l":0.28,"h":0.34},{"d":"2002-04-01","m":0.3,"l":0.27,"h":0.33},{"d":"2002-04-20","m":0.24,"l":0.21,"h":0.28},{"d":"2002-05-10","m":0.13,"l":0.1,"h":0.2},{"d":"2002-06-01","m":0.04,"l":0.02,"h":0.1},{"d":"2002-06-15","m":0.02,"l":0.015,"h":0.04},{"d":"2002-09-20","m":0.02,"l":0.015,"h":0.04},{"d":"2002-10-05","m":0.03,"l":0.02,"h":0.06},{"d":"2002-10-12","m":0.21,"l":0.18,"h":0.23},{"d":"2002-11-10","m":0.22,"l":0.19,"h":0.25},{"d":"2002-12-20","m":0.26,"l":0.23,"h":0.29},
{"d":"2003-01-20","m":0.29,"l":0.26,"h":0.32},{"d":"2003-02-15","m":0.31,"l":0.28,"h":0.34},{"d":"2003-03-10","m":0.336,"l":0.3,"h":0.36},{"d":"2003-03-25","m":0.32,"l":0.29,"h":0.35},{"d":"2003-04-15","m":0.24,"l":0.21,"h":0.29},{"d":"2003-05-05","m":0.15,"l":0.12,"h":0.22},{"d":"2003-05-25","m":0.06,"l":0.04,"h":0.12},{"d":"2003-06-10","m":0.025,"l":0.015,"h":0.05},{"d":"2003-09-10","m":0.025,"l":0.015,"h":0.05},{"d":"2003-09-20","m":0.14,"l":0.11,"h":0.17},{"d":"2003-10-25","m":0.18,"l":0.16,"h":0.21},{"d":"2003-12-10","m":0.235,"l":0.21,"h":0.26},
{"d":"2004-01-10","m":0.28,"l":0.25,"h":0.31},{"d":"2004-01-25","m":0.286,"l":0.26,"h":0.31},{"d":"2004-02-10","m":0.22,"l":0.19,"h":0.26},{"d":"2004-03-01","m":0.26,"l":0.23,"h":0.29},{"d":"2004-03-25","m":0.2,"l":0.17,"h":0.24},{"d":"2004-04-15","m":0.15,"l":0.12,"h":0.2},{"d":"2004-05-05","m":0.08,"l":0.05,"h":0.14},{"d":"2004-05-25","m":0.03,"l":0.02,"h":0.07},{"d":"2004-09-25","m":0.03,"l":0.02,"h":0.06},{"d":"2004-10-10","m":0.2,"l":0.17,"h":0.23},{"d":"2004-11-10","m":0.235,"l":0.21,"h":0.26},{"d":"2004-12-15","m":0.25,"l":0.22,"h":0.28},
{"d":"2005-01-20","m":0.3,"l":0.27,"h":0.33},{"d":"2005-02-25","m":0.336,"l":0.3,"h":0.36},{"d":"2005-03-20","m":0.3,"l":0.27,"h":0.33},{"d":"2005-04-10","m":0.25,"l":0.22,"h":0.3},{"d":"2005-05-01","m":0.16,"l":0.13,"h":0.23},{"d":"2005-05-25","m":0.06,"l":0.04,"h":0.12},{"d":"2005-06-10","m":0.025,"l":0.015,"h":0.05},{"d":"2005-10-05","m":0.025,"l":0.015,"h":0.05},{"d":"2005-10-15","m":0.22,"l":0.19,"h":0.25},{"d":"2005-12-01","m":0.235,"l":0.21,"h":0.26},
{"d":"2006-01-01","m":0.235,"l":0.21,"h":0.26},{"d":"2006-01-20","m":0.23,"l":0.2,"h":0.26},{"d":"2006-02-15","m":0.25,"l":0.22,"h":0.28},{"d":"2006-03-10","m":0.3,"l":0.27,"h":0.33},{"d":"2006-03-25","m":0.31,"l":0.28,"h":0.34},{"d":"2006-04-15","m":0.27,"l":0.24,"h":0.31},{"d":"2006-05-05","m":0.2,"l":0.17,"h":0.26},{"d":"2006-05-25","m":0.1,"l":0.07,"h":0.17},{"d":"2006-06-10","m":0.04,"l":0.02,"h":0.08},{"d":"2006-06-25","m":0.02,"l":0.015,"h":0.04},{"d":"2006-10-20","m":0.02,"l":0.015,"h":0.04},{"d":"2006-10-30","m":0.22,"l":0.19,"h":0.25},{"d":"2006-12-10","m":0.247,"l":0.22,"h":0.27},
{"d":"2007-01-20","m":0.26,"l":0.23,"h":0.29},{"d":"2007-02-20","m":0.3,"l":0.27,"h":0.33},{"d":"2007-03-10","m":0.336,"l":0.3,"h":0.36},{"d":"2007-03-25","m":0.31,"l":0.28,"h":0.34},{"d":"2007-04-15","m":0.25,"l":0.22,"h":0.3},{"d":"2007-05-05","m":0.15,"l":0.12,"h":0.22},{"d":"2007-05-25","m":0.06,"l":0.04,"h":0.12},{"d":"2007-06-10","m":0.025,"l":0.015,"h":0.05},{"d":"2007-10-15","m":0.025,"l":0.015,"h":0.05},{"d":"2007-10-25","m":0.17,"l":0.14,"h":0.2},{"d":"2007-12-15","m":0.22,"l":0.19,"h":0.25},
{"d":"2008-01-25","m":0.26,"l":0.23,"h":0.29},{"d":"2008-03-01","m":0.28,"l":0.25,"h":0.31},{"d":"2008-03-25","m":0.286,"l":0.26,"h":0.31},{"d":"2008-04-20","m":0.22,"l":0.19,"h":0.27},{"d":"2008-05-10","m":0.15,"l":0.12,"h":0.21},{"d":"2008-06-01","m":0.06,"l":0.04,"h":0.12},{"d":"2008-06-15","m":0.025,"l":0.015,"h":0.05},{"d":"2008-10-25","m":0.025,"l":0.015,"h":0.05},{"d":"2008-11-05","m":0.24,"l":0.21,"h":0.27},{"d":"2008-12-15","m":0.26,"l":0.23,"h":0.29},
{"d":"2009-02-01","m":0.27,"l":0.24,"h":0.3},{"d":"2009-03-10","m":0.29,"l":0.26,"h":0.32},{"d":"2009-04-05","m":0.31,"l":0.28,"h":0.34},{"d":"2009-04-20","m":0.23,"l":0.2,"h":0.28},{"d":"2009-05-10","m":0.15,"l":0.12,"h":0.21},{"d":"2009-06-01","m":0.06,"l":0.04,"h":0.12},{"d":"2009-06-15","m":0.025,"l":0.015,"h":0.05},{"d":"2009-11-01","m":0.025,"l":0.015,"h":0.05},{"d":"2009-11-10","m":0.2,"l":0.17,"h":0.23},{"d":"2009-12-20","m":0.235,"l":0.21,"h":0.26},
{"d":"2010-02-01","m":0.25,"l":0.22,"h":0.28},{"d":"2010-03-10","m":0.265,"l":0.24,"h":0.29},{"d":"2010-03-25","m":0.22,"l":0.19,"h":0.26},{"d":"2010-04-20","m":0.15,"l":0.12,"h":0.2},{"d":"2010-05-15","m":0.07,"l":0.05,"h":0.13},{"d":"2010-06-01","m":0.03,"l":0.02,"h":0.06},{"d":"2010-10-25","m":0.025,"l":0.015,"h":0.05},{"d":"2010-11-10","m":0.17,"l":0.14,"h":0.2},{"d":"2010-12-20","m":0.2,"l":0.17,"h":0.23},{"d":"2011-01-01","m":0.21,"l":0.18,"h":0.24}
],
"sdf": [
{"d":"2001-01-01","md":0.203,"mf":0.2,"l":0.17,"h":0.25},{"d":"2001-01-31","md":0.18,"mf":0.18,"l":0.15,"h":0.24},{"d":"2001-03-11","md":0.267,"mf":0.27,"l":0.23,"h":0.31},{"d":"2001-04-16","md":0.25,"mf":0.25,"l":0.2,"h":0.3},{"d":"2001-05-12","md":0.17,"mf":0.17,"l":0.13,"h":0.26},{"d":"2001-06-13","md":0.055,"mf":0.055,"l":0.03,"h":0.2},{"d":"2001-07-16","md":0.023,"mf":0.023,"l":0.015,"h":0.06},{"d":"2001-09-05","md":0.035,"mf":0.03,"l":0.02,"h":0.06},{"d":"2001-10-01","md":0.03,"mf":0.03,"l":0.02,"h":0.08},{"d":"2001-10-12","md":0.14,"mf":0.14,"l":0.1,"h":0.2},{"d":"2001-12-03","md":0.18,"mf":0.18,"l":0.15,"h":0.24},
{"d":"2002-01-23","md":0.21,"mf":0.21,"l":0.17,"h":0.26},{"d":"2002-03-15","md":0.26,"mf":0.26,"l":0.22,"h":0.31},{"d":"2002-04-10","md":0.295,"mf":0.295,"l":0.25,"h":0.33},{"d":"2002-05-05","md":0.235,"mf":0.235,"l":0.19,"h":0.3},{"d":"2002-06-13","md":0.08,"mf":0.08,"l":0.04,"h":0.22},{"d":"2002-07-09","md":0.023,"mf":0.023,"l":0.015,"h":0.07},{"d":"2002-09-10","md":0.023,"mf":0.023,"l":0.015,"h":0.05},{"d":"2002-09-24","md":0.2,"mf":0.2,"l":0.15,"h":0.24},{"d":"2002-10-30","md":0.22,"mf":0.22,"l":0.18,"h":0.27},{"d":"2002-12-20","md":0.235,"mf":0.235,"l":0.2,"h":0.3},
{"d":"2003-02-10","md":0.27,"mf":0.27,"l":0.23,"h":0.34},{"d":"2003-03-22","md":0.31,"mf":0.315,"l":0.27,"h":0.36},{"d":"2003-04-16","md":0.27,"mf":0.27,"l":0.23,"h":0.34},{"d":"2003-05-23","md":0.158,"mf":0.16,"l":0.1,"h":0.28},{"d":"2003-07-01","md":0.04,"mf":0.04,"l":0.02,"h":0.15},{"d":"2003-07-27","md":0.023,"mf":0.023,"l":0.015,"h":0.05},{"d":"2003-09-27","md":0.03,"mf":0.03,"l":0.02,"h":0.1},{"d":"2003-10-26","md":0.158,"mf":0.158,"l":0.12,"h":0.22},{"d":"2003-12-16","md":0.196,"mf":0.2,"l":0.16,"h":0.26},
{"d":"2004-02-06","md":0.27,"mf":0.263,"l":0.23,"h":0.31},{"d":"2004-03-03","md":0.22,"mf":0.22,"l":0.18,"h":0.3},{"d":"2004-03-28","md":0.235,"mf":0.23,"l":0.19,"h":0.29},{"d":"2004-05-04","md":0.13,"mf":0.13,"l":0.08,"h":0.22},{"d":"2004-06-13","md":0.04,"mf":0.04,"l":0.02,"h":0.15},{"d":"2004-07-19","md":0.025,"mf":0.025,"l":0.015,"h":0.05},{"d":"2004-10-04","md":0.025,"mf":0.025,"l":0.015,"h":0.2},{"d":"2004-10-19","md":0.158,"mf":0.16,"l":0.12,"h":0.25},{"d":"2004-11-24","md":0.235,"mf":0.235,"l":0.2,"h":0.28},
{"d":"2005-01-30","md":0.25,"mf":0.25,"l":0.21,"h":0.3},{"d":"2005-03-07","md":0.3,"mf":0.315,"l":0.26,"h":0.35},{"d":"2005-04-16","md":0.26,"mf":0.26,"l":0.22,"h":0.33},{"d":"2005-05-22","md":0.145,"mf":0.145,"l":0.09,"h":0.27},{"d":"2005-07-01","md":0.04,"mf":0.04,"l":0.02,"h":0.12},{"d":"2005-07-27","md":0.025,"mf":0.025,"l":0.015,"h":0.05},{"d":"2005-10-12","md":0.025,"mf":0.025,"l":0.015,"h":0.08},{"d":"2005-10-23","md":0.21,"mf":0.21,"l":0.17,"h":0.25},{"d":"2005-12-28","md":0.22,"mf":0.22,"l":0.19,"h":0.26},
{"d":"2006-02-17","md":0.22,"mf":0.225,"l":0.19,"h":0.27},{"d":"2006-04-09","md":0.295,"mf":0.295,"l":0.25,"h":0.33},{"d":"2006-05-15","md":0.21,"mf":0.21,"l":0.16,"h":0.28},{"d":"2006-06-24","md":0.055,"mf":0.055,"l":0.03,"h":0.2},{"d":"2006-07-31","md":0.025,"mf":0.025,"l":0.015,"h":0.06},{"d":"2006-10-04","md":0.03,"mf":0.03,"l":0.02,"h":0.08},{"d":"2006-10-30","md":0.21,"mf":0.21,"l":0.17,"h":0.25},{"d":"2006-12-20","md":0.22,"mf":0.22,"l":0.19,"h":0.27},
{"d":"2007-01-26","md":0.235,"mf":0.24,"l":0.2,"h":0.29},{"d":"2007-03-08","md":0.32,"mf":0.315,"l":0.28,"h":0.36},{"d":"2007-04-16","md":0.235,"mf":0.235,"l":0.19,"h":0.3},{"d":"2007-05-23","md":0.107,"mf":0.107,"l":0.06,"h":0.24},{"d":"2007-07-01","md":0.03,"mf":0.03,"l":0.015,"h":0.1},{"d":"2007-09-02","md":0.023,"mf":0.023,"l":0.015,"h":0.05},{"d":"2007-10-09","md":0.03,"mf":0.03,"l":0.02,"h":0.1},{"d":"2007-10-23","md":0.17,"mf":0.17,"l":0.13,"h":0.22},{"d":"2007-12-13","md":0.21,"mf":0.21,"l":0.17,"h":0.26},
{"d":"2008-02-06","md":0.25,"mf":0.25,"l":0.21,"h":0.3},{"d":"2008-04-09","md":0.28,"mf":0.28,"l":0.24,"h":0.32},{"d":"2008-05-12","md":0.21,"mf":0.21,"l":0.16,"h":0.28},{"d":"2008-06-21","md":0.08,"mf":0.08,"l":0.04,"h":0.2},{"d":"2008-07-28","md":0.023,"mf":0.023,"l":0.015,"h":0.06},{"d":"2008-10-26","md":0.03,"mf":0.03,"l":0.02,"h":0.1},{"d":"2008-11-06","md":0.25,"mf":0.25,"l":0.2,"h":0.28},{"d":"2008-12-28","md":0.255,"mf":0.255,"l":0.22,"h":0.3},
{"d":"2009-02-17","md":0.26,"mf":0.26,"l":0.22,"h":0.31},{"d":"2009-04-09","md":0.3,"mf":0.3,"l":0.26,"h":0.34},{"d":"2009-05-05","md":0.22,"mf":0.22,"l":0.17,"h":0.29},{"d":"2009-06-13","md":0.094,"mf":0.094,"l":0.05,"h":0.22},{"d":"2009-07-19","md":0.03,"mf":0.03,"l":0.015,"h":0.07},{"d":"2009-10-04","md":0.03,"mf":0.03,"l":0.02,"h":0.08},{"d":"2009-10-30","md":0.18,"mf":0.18,"l":0.14,"h":0.23},{"d":"2009-12-20","md":0.22,"mf":0.22,"l":0.18,"h":0.26},
{"d":"2010-03-08","md":0.255,"mf":0.257,"l":0.22,"h":0.3},{"d":"2010-04-02","md":0.21,"mf":0.21,"l":0.17,"h":0.27},{"d":"2010-05-23","md":0.094,"mf":0.094,"l":0.05,"h":0.2},{"d":"2010-07-01","md":0.025,"mf":0.025,"l":0.015,"h":0.06},{"d":"2010-09-17","md":0.023,"mf":0.023,"l":0.015,"h":0.05},{"d":"2010-10-27","md":0.13,"mf":0.13,"l":0.09,"h":0.18},{"d":"2010-12-03","md":0.196,"mf":0.196,"l":0.16,"h":0.24},{"d":"2011-01-01","md":0.2,"mf":0.2,"l":0.16,"h":0.24}
]
},
"columns": 2,
"spacing": {"row": 21.5, "column": 37},
"bounds": "flush",
"resolve": {"scale": {"color": "independent"}},
"concat": [
{
 "width": 498, "height": 182,
 "title": {"text": "Discharge at Nuxia", "offset": 10},
 "layer": [
  {"data": {"name": "qs"}, "mark": {"type": "area", "color": "#c6c6c6"},
   "encoding": {
    "x": {"field": "d", "type": "temporal", "scale": {"type": "utc", "nice": false, "domain": [{"year": 2001, "month": 1, "date": 1, "utc": true}, {"year": 2011, "month": 1, "date": 1, "utc": true}]}, "axis": {"tickCount": {"interval": "month", "step": 3}, "labels": false, "title": null}},
    "y": {"field": "l", "type": "quantitative", "scale": {"domain": [0, 6], "nice": false}, "axis": {"values": [0, 1, 2, 3, 4, 5, 6], "tickCount": 7, "labels": false, "title": "Dual-objective", "titlePadding": 16}},
    "y2": {"field": "h"}}},
  {"data": {"name": "qo"}, "mark": {"type": "line", "strokeWidth": 2.2},
   "encoding": {"x": {"field": "d", "type": "temporal"}, "y": {"field": "v", "type": "quantitative", "axis": {"values": [0, 1, 2, 3, 4, 5, 6], "tickCount": 7, "labels": false}},
    "color": {"datum": "observation", "scale": {"domain": ["uncertainty range", "observation", "simulation average"], "range": ["#c6c6c6", "#000000", "#ff0000"]},
     "legend": {"orient": "none", "legendX": 337, "legendY": 1, "title": null, "symbolType": "M-1,0H3", "symbolSize": 100, "symbolStrokeWidth": 2.5, "labelFont": "Lato", "labelFontSize": 9.5, "labelFontWeight": "bold", "labelColor": "#404040", "labelOffset": 11, "rowPadding": 0, "padding": 3, "strokeColor": "#bfbfbf", "fillColor": "white",
      "encode": {"symbols": {"update": {"strokeWidth": {"signal": "datum.value === 'uncertainty range' ? 6 : 2.5"}}}}}}}},
  {"data": {"name": "qs"}, "mark": {"type": "line", "strokeWidth": 2.5},
   "encoding": {"x": {"field": "d", "type": "temporal"}, "y": {"field": "a", "type": "quantitative", "axis": {"values": [0, 1, 2, 3, 4, 5, 6], "tickCount": 7, "labels": false}}, "color": {"datum": "simulation average"}}},
  {"data": {"values": [{"d": "2006-01-01", "t": 5.84, "b": 0}]}, "mark": {"type": "rule", "color": "black", "strokeWidth": 1.4, "strokeDash": [5, 4]},
   "encoding": {"x": {"field": "d", "type": "temporal"}, "y": {"field": "t", "type": "quantitative", "axis": {"values": [0, 1, 2, 3, 4, 5, 6], "tickCount": 7, "labels": false}}, "y2": {"field": "b"}}},
  {"data": {"values": [{"d": "2003-04-08", "y": 6.16, "t": "Calibration"}, {"d": "2007-11-28", "y": 6.16, "t": "Validation"}]}, "mark": {"type": "text", "fontSize": 13.5, "baseline": "middle"},
   "encoding": {"x": {"field": "d", "type": "temporal"}, "y": {"field": "y", "type": "quantitative", "axis": {"values": [0, 1, 2, 3, 4, 5, 6], "tickCount": 7, "labels": false}}, "text": {"field": "t"}}},
  {"data": {"values": [{"d": "2001-04-12", "y": 5.5, "t": "(a)"}]}, "mark": {"type": "text", "fontSize": 12.5, "baseline": "middle"},
   "encoding": {"x": {"field": "d", "type": "temporal"}, "y": {"field": "y", "type": "quantitative", "axis": {"values": [0, 1, 2, 3, 4, 5, 6], "tickCount": 7, "labels": false}}, "text": {"field": "t"}}},
  {"data": {"values": [{"d": "2004-02-25", "y": 5.14, "t": "NSE=0.91 (0.86~0.94)"}, {"d": "2007-02-06", "y": 5.24, "t": "NSE=0.86"}, {"d": "2007-03-08", "y": 4.71, "t": "(0.77~0.92)"}]}, "mark": {"type": "text", "fontSize": 11.5, "baseline": "middle"},
   "encoding": {"x": {"field": "d", "type": "temporal"}, "y": {"field": "y", "type": "quantitative", "axis": {"values": [0, 1, 2, 3, 4, 5, 6], "tickCount": 7, "labels": false}}, "text": {"field": "t"}}}
 ]
},
{
 "width": 503, "height": 182,
 "title": {"text": "Snow cover area", "offset": 6},
 "layer": [
  {"data": {"name": "sb"}, "mark": {"type": "area", "color": "#c6c6c6"},
   "encoding": {
    "x": {"field": "d", "type": "temporal", "scale": {"type": "utc", "nice": false, "domain": [{"year": 2001, "month": 1, "date": 1, "utc": true}, {"year": 2011, "month": 1, "date": 1, "utc": true}]}, "axis": {"tickCount": {"interval": "month", "step": 3}, "labels": false, "title": null}},
    "y": {"field": "l", "type": "quantitative", "scale": {"domain": [0, 0.7], "nice": false}, "axis": {"values": [0, 0.1, 0.2, 0.3, 0.4, 0.5, 0.6, 0.7], "tickCount": 8, "format": ".1~f", "title": null, "labelPadding": 3, "labelOverlap": false}},
    "y2": {"field": "h"}}},
  {"data": {"name": "so"}, "mark": {"type": "line", "color": "black", "strokeWidth": 1.1},
   "encoding": {"x": {"field": "d", "type": "temporal"}, "y": {"field": "v", "type": "quantitative", "axis": {"values": [0, 0.1, 0.2, 0.3, 0.4, 0.5, 0.6, 0.7], "tickCount": 8, "format": ".1~f", "title": null, "labelPadding": 3, "labelOverlap": false}}}},
  {"data": {"name": "sb"}, "mark": {"type": "line", "color": "#ff0000", "strokeWidth": 2.5},
   "encoding": {"x": {"field": "d", "type": "temporal"}, "y": {"field": "m", "type": "quantitative", "axis": {"values": [0, 0.1, 0.2, 0.3, 0.4, 0.5, 0.6, 0.7], "tickCount": 8, "format": ".1~f", "title": null, "labelPadding": 3, "labelOverlap": false}}}},
  {"data": {"values": [{"d": "2006-01-01", "t": 0.68, "b": 0}]}, "mark": {"type": "rule", "color": "black", "strokeWidth": 1.4, "strokeDash": [5, 4]},
   "encoding": {"x": {"field": "d", "type": "temporal"}, "y": {"field": "t", "type": "quantitative", "axis": {"values": [0, 0.1, 0.2, 0.3, 0.4, 0.5, 0.6, 0.7], "tickCount": 8, "format": ".1~f", "title": null, "labelPadding": 3, "labelOverlap": false}}, "y2": {"field": "b"}}},
  {"data": {"values": [{"d": "2003-06-10", "y": 0.723, "t": "Calibration"}, {"d": "2008-07-01", "y": 0.723, "t": "Validation"}]}, "mark": {"type": "text", "fontSize": 13.5, "baseline": "middle"},
   "encoding": {"x": {"field": "d", "type": "temporal"}, "y": {"field": "y", "type": "quantitative", "axis": {"values": [0, 0.1, 0.2, 0.3, 0.4, 0.5, 0.6, 0.7], "tickCount": 8, "format": ".1~f", "title": null, "labelPadding": 3, "labelOverlap": false}}, "text": {"field": "t"}}},
  {"data": {"values": [{"d": "2001-04-25", "y": 0.646, "t": "(b)"}]}, "mark": {"type": "text", "fontSize": 12.5, "baseline": "middle"},
   "encoding": {"x": {"field": "d", "type": "temporal"}, "y": {"field": "y", "type": "quantitative", "axis": {"values": [0, 0.1, 0.2, 0.3, 0.4, 0.5, 0.6, 0.7], "tickCount": 8, "format": ".1~f", "title": null, "labelPadding": 3, "labelOverlap": false}}, "text": {"field": "t"}}},
  {"data": {"values": [{"d": "2003-10-18", "y": 0.595, "t": "RMSE=0.07 (0.07~0.10)"}, {"d": "2009-03-25", "y": 0.595, "t": "RMSE=0.07 (0.06~0.09)"}]}, "mark": {"type": "text", "fontSize": 11.5, "baseline": "middle"},
   "encoding": {"x": {"field": "d", "type": "temporal"}, "y": {"field": "y", "type": "quantitative", "axis": {"values": [0, 0.1, 0.2, 0.3, 0.4, 0.5, 0.6, 0.7], "tickCount": 8, "format": ".1~f", "title": null, "labelPadding": 3, "labelOverlap": false}}, "text": {"field": "t"}}}
 ]
},
{
 "width": 498, "height": 182,
 "layer": [
  {"data": {"name": "qs"}, "mark": {"type": "area", "color": "#c6c6c6"},
   "encoding": {
    "x": {"field": "d", "type": "temporal", "scale": {"type": "utc", "nice": false, "domain": [{"year": 2001, "month": 1, "date": 1, "utc": true}, {"year": 2011, "month": 1, "date": 1, "utc": true}]}, "axis": {"tickCount": {"interval": "month", "step": 3}, "labels": false, "title": null}},
    "y": {"field": "l", "type": "quantitative", "scale": {"domain": [0, 6], "nice": false}, "axis": {"values": [0, 1, 2, 3, 4, 5, 6], "tickCount": 7, "labels": false, "title": ["Triple-objective", "(interpolation-forced)"], "titlePadding": 8, "titleLineHeight": 16}},
    "y2": {"field": "h"}}},
  {"data": {"name": "qo"}, "mark": {"type": "line", "color": "black", "strokeWidth": 2.2},
   "encoding": {"x": {"field": "d", "type": "temporal"}, "y": {"field": "v", "type": "quantitative", "axis": {"values": [0, 1, 2, 3, 4, 5, 6], "tickCount": 7, "labels": false}}}},
  {"data": {"name": "qs"}, "mark": {"type": "line", "color": "#ff0000", "strokeWidth": 2.5},
   "encoding": {"x": {"field": "d", "type": "temporal"}, "y": {"field": "c", "type": "quantitative", "axis": {"values": [0, 1, 2, 3, 4, 5, 6], "tickCount": 7, "labels": false}}}},
  {"data": {"values": [{"d": "2006-01-01", "t": 5.84, "b": 0}]}, "mark": {"type": "rule", "color": "black", "strokeWidth": 1.4, "strokeDash": [5, 4]},
   "encoding": {"x": {"field": "d", "type": "temporal"}, "y": {"field": "t", "type": "quantitative", "axis": {"values": [0, 1, 2, 3, 4, 5, 6], "tickCount": 7, "labels": false}}, "y2": {"field": "b"}}},
  {"data": {"values": [{"d": "2001-04-12", "y": 5.4, "t": "(c)"}]}, "mark": {"type": "text", "fontSize": 12.5, "baseline": "middle"},
   "encoding": {"x": {"field": "d", "type": "temporal"}, "y": {"field": "y", "type": "quantitative", "axis": {"values": [0, 1, 2, 3, 4, 5, 6], "tickCount": 7, "labels": false}}, "text": {"field": "t"}}},
  {"data": {"values": [{"d": "2004-02-25", "y": 5.31, "t": "NSE=0.89 (0.85~0.92)"}, {"d": "2008-06-13", "y": 5.31, "t": "NSE=0.82 (0.75~0.89)"}]}, "mark": {"type": "text", "fontSize": 11.5, "baseline": "middle"},
   "encoding": {"x": {"field": "d", "type": "temporal"}, "y": {"field": "y", "type": "quantitative", "axis": {"values": [0, 1, 2, 3, 4, 5, 6], "tickCount": 7, "labels": false}}, "text": {"field": "t"}}}
 ]
},
{
 "width": 503, "height": 182,
 "layer": [
  {"data": {"name": "sdf"}, "mark": {"type": "area", "color": "#c6c6c6"},
   "encoding": {
    "x": {"field": "d", "type": "temporal", "scale": {"type": "utc", "nice": false, "domain": [{"year": 2001, "month": 1, "date": 1, "utc": true}, {"year": 2011, "month": 1, "date": 1, "utc": true}]}, "axis": {"tickCount": {"interval": "month", "step": 3}, "labels": false, "title": null}},
    "y": {"field": "l", "type": "quantitative", "scale": {"domain": [0, 0.7], "nice": false}, "axis": {"values": [0, 0.1, 0.2, 0.3, 0.4, 0.5, 0.6, 0.7], "tickCount": 8, "format": ".1~f", "title": null, "labelPadding": 3, "labelOverlap": false}},
    "y2": {"field": "h"}}},
  {"data": {"name": "so"}, "mark": {"type": "line", "color": "black", "strokeWidth": 1.1},
   "encoding": {"x": {"field": "d", "type": "temporal"}, "y": {"field": "v", "type": "quantitative", "axis": {"values": [0, 0.1, 0.2, 0.3, 0.4, 0.5, 0.6, 0.7], "tickCount": 8, "format": ".1~f", "title": null, "labelPadding": 3, "labelOverlap": false}}}},
  {"data": {"name": "sdf"}, "mark": {"type": "line", "color": "#ff0000", "strokeWidth": 2.5},
   "encoding": {"x": {"field": "d", "type": "temporal"}, "y": {"field": "md", "type": "quantitative", "axis": {"values": [0, 0.1, 0.2, 0.3, 0.4, 0.5, 0.6, 0.7], "tickCount": 8, "format": ".1~f", "title": null, "labelPadding": 3, "labelOverlap": false}}}},
  {"data": {"values": [{"d": "2006-01-01", "t": 0.68, "b": 0}]}, "mark": {"type": "rule", "color": "black", "strokeWidth": 1.4, "strokeDash": [5, 4]},
   "encoding": {"x": {"field": "d", "type": "temporal"}, "y": {"field": "t", "type": "quantitative", "axis": {"values": [0, 0.1, 0.2, 0.3, 0.4, 0.5, 0.6, 0.7], "tickCount": 8, "format": ".1~f", "title": null, "labelPadding": 3, "labelOverlap": false}}, "y2": {"field": "b"}}},
  {"data": {"values": [{"d": "2001-04-25", "y": 0.63, "t": "(d)"}]}, "mark": {"type": "text", "fontSize": 12.5, "baseline": "middle"},
   "encoding": {"x": {"field": "d", "type": "temporal"}, "y": {"field": "y", "type": "quantitative", "axis": {"values": [0, 0.1, 0.2, 0.3, 0.4, 0.5, 0.6, 0.7], "tickCount": 8, "format": ".1~f", "title": null, "labelPadding": 3, "labelOverlap": false}}, "text": {"field": "t"}}},
  {"data": {"values": [{"d": "2003-10-18", "y": 0.6, "t": "RMSE=0.08 (0.07~0.10)"}, {"d": "2009-03-25", "y": 0.6, "t": "RMSE=0.07 (0.07~0.09)"}]}, "mark": {"type": "text", "fontSize": 11.5, "baseline": "middle"},
   "encoding": {"x": {"field": "d", "type": "temporal"}, "y": {"field": "y", "type": "quantitative", "axis": {"values": [0, 0.1, 0.2, 0.3, 0.4, 0.5, 0.6, 0.7], "tickCount": 8, "format": ".1~f", "title": null, "labelPadding": 3, "labelOverlap": false}}, "text": {"field": "t"}}}
 ]
},
{
 "width": 498, "height": 182,
 "layer": [
  {"data": {"name": "qs"}, "mark": {"type": "area", "color": "#c6c6c6"},
   "encoding": {
    "x": {"field": "d", "type": "temporal", "scale": {"type": "utc", "nice": false, "domain": [{"year": 2001, "month": 1, "date": 1, "utc": true}, {"year": 2011, "month": 1, "date": 1, "utc": true}]}, "axis": {"tickCount": {"interval": "month", "step": 3}, "labelExpr": "utcmonth(datum.value) === 0 && utcyear(datum.value) < 2011 ? utcFormat(datum.value, '%Y/%-m/%-d') : ''", "labelOverlap": false, "labelFlush": false, "labelPadding": 4, "title": null}},
    "y": {"field": "l", "type": "quantitative", "scale": {"domain": [0, 6], "nice": false}, "axis": {"values": [0, 1, 2, 3, 4, 5, 6], "tickCount": 7, "labels": false, "title": ["Triple-objective", "(isoGSM-forced)"], "titlePadding": 8, "titleLineHeight": 16}},
    "y2": {"field": "h"}}},
  {"data": {"name": "qo"}, "mark": {"type": "line", "color": "black", "strokeWidth": 2.2},
   "encoding": {"x": {"field": "d", "type": "temporal"}, "y": {"field": "v", "type": "quantitative", "axis": {"values": [0, 1, 2, 3, 4, 5, 6], "tickCount": 7, "labels": false}}}},
  {"data": {"name": "qs"}, "mark": {"type": "line", "color": "#ff0000", "strokeWidth": 2.5},
   "encoding": {"x": {"field": "d", "type": "temporal"}, "y": {"field": "e", "type": "quantitative", "axis": {"values": [0, 1, 2, 3, 4, 5, 6], "tickCount": 7, "labels": false}}}},
  {"data": {"values": [{"d": "2006-01-01", "t": 5.84, "b": 0}]}, "mark": {"type": "rule", "color": "black", "strokeWidth": 1.4, "strokeDash": [5, 4]},
   "encoding": {"x": {"field": "d", "type": "temporal"}, "y": {"field": "t", "type": "quantitative", "axis": {"values": [0, 1, 2, 3, 4, 5, 6], "tickCount": 7, "labels": false}}, "y2": {"field": "b"}}},
  {"data": {"values": [{"d": "2001-04-12", "y": 5.37, "t": "(e)"}]}, "mark": {"type": "text", "fontSize": 12.5, "baseline": "middle"},
   "encoding": {"x": {"field": "d", "type": "temporal"}, "y": {"field": "y", "type": "quantitative", "axis": {"values": [0, 1, 2, 3, 4, 5, 6], "tickCount": 7, "labels": false}}, "text": {"field": "t"}}},
  {"data": {"values": [{"d": "2004-02-25", "y": 5.27, "t": "NSE=0.89 (0.85~0.93)"}, {"d": "2007-01-01", "y": 5.18, "t": "NSE=0.85"}, {"d": "2007-01-30", "y": 4.68, "t": "(0.76~0.91)"}]}, "mark": {"type": "text", "fontSize": 11.5, "baseline": "middle"},
   "encoding": {"x": {"field": "d", "type": "temporal"}, "y": {"field": "y", "type": "quantitative", "axis": {"values": [0, 1, 2, 3, 4, 5, 6], "tickCount": 7, "labels": false}}, "text": {"field": "t"}}}
 ]
},
{
 "width": 503, "height": 182,
 "layer": [
  {"data": {"name": "sdf"}, "mark": {"type": "area", "color": "#c6c6c6"},
   "encoding": {
    "x": {"field": "d", "type": "temporal", "scale": {"type": "utc", "nice": false, "domain": [{"year": 2001, "month": 1, "date": 1, "utc": true}, {"year": 2011, "month": 1, "date": 1, "utc": true}]}, "axis": {"tickCount": {"interval": "month", "step": 3}, "labelExpr": "utcmonth(datum.value) === 0 && utcyear(datum.value) < 2011 ? utcFormat(datum.value, '%Y/%-m/%-d') : ''", "labelOverlap": false, "labelFlush": false, "labelPadding": 4, "title": null}},
    "y": {"field": "l", "type": "quantitative", "scale": {"domain": [0, 0.7], "nice": false}, "axis": {"values": [0, 0.1, 0.2, 0.3, 0.4, 0.5, 0.6, 0.7], "tickCount": 8, "format": ".1~f", "title": null, "labelPadding": 3, "labelOverlap": false}},
    "y2": {"field": "h"}}},
  {"data": {"name": "so"}, "mark": {"type": "line", "color": "black", "strokeWidth": 1.1},
   "encoding": {"x": {"field": "d", "type": "temporal"}, "y": {"field": "v", "type": "quantitative", "axis": {"values": [0, 0.1, 0.2, 0.3, 0.4, 0.5, 0.6, 0.7], "tickCount": 8, "format": ".1~f", "title": null, "labelPadding": 3, "labelOverlap": false}}}},
  {"data": {"name": "sdf"}, "mark": {"type": "line", "color": "#ff0000", "strokeWidth": 2.5},
   "encoding": {"x": {"field": "d", "type": "temporal"}, "y": {"field": "mf", "type": "quantitative", "axis": {"values": [0, 0.1, 0.2, 0.3, 0.4, 0.5, 0.6, 0.7], "tickCount": 8, "format": ".1~f", "title": null, "labelPadding": 3, "labelOverlap": false}}}},
  {"data": {"values": [{"d": "2006-01-01", "t": 0.68, "b": 0}]}, "mark": {"type": "rule", "color": "black", "strokeWidth": 1.4, "strokeDash": [5, 4]},
   "encoding": {"x": {"field": "d", "type": "temporal"}, "y": {"field": "t", "type": "quantitative", "axis": {"values": [0, 0.1, 0.2, 0.3, 0.4, 0.5, 0.6, 0.7], "tickCount": 8, "format": ".1~f", "title": null, "labelPadding": 3, "labelOverlap": false}}, "y2": {"field": "b"}}},
  {"data": {"values": [{"d": "2001-04-25", "y": 0.635, "t": "(f)"}]}, "mark": {"type": "text", "fontSize": 12.5, "baseline": "middle"},
   "encoding": {"x": {"field": "d", "type": "temporal"}, "y": {"field": "y", "type": "quantitative", "axis": {"values": [0, 0.1, 0.2, 0.3, 0.4, 0.5, 0.6, 0.7], "tickCount": 8, "format": ".1~f", "title": null, "labelPadding": 3, "labelOverlap": false}}, "text": {"field": "t"}}},
  {"data": {"values": [{"d": "2003-10-18", "y": 0.6, "t": "RMSE=0.08 (0.07~0.10)"}, {"d": "2009-03-25", "y": 0.6, "t": "RMSE=0.07 (0.07~0.09)"}]}, "mark": {"type": "text", "fontSize": 11.5, "baseline": "middle"},
   "encoding": {"x": {"field": "d", "type": "temporal"}, "y": {"field": "y", "type": "quantitative", "axis": {"values": [0, 0.1, 0.2, 0.3, 0.4, 0.5, 0.6, 0.7], "tickCount": 8, "format": ".1~f", "title": null, "labelPadding": 3, "labelOverlap": false}}, "text": {"field": "t"}}}
 ]
}
]
}
